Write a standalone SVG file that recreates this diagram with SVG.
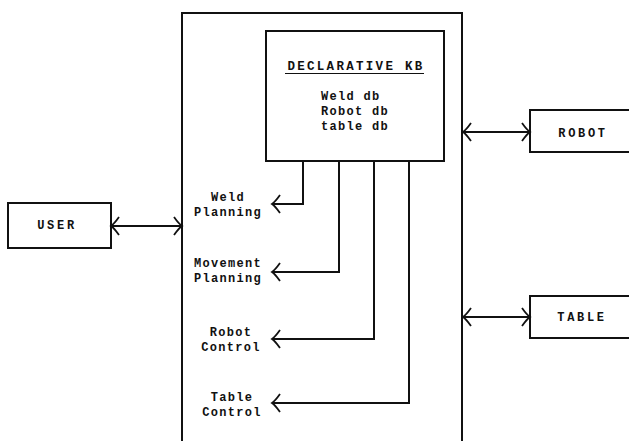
<svg xmlns="http://www.w3.org/2000/svg" width="629" height="441" viewBox="0 0 629 441">
<style>
.ln{fill:none;stroke:#111;stroke-width:2}
.bx{fill:#fff;stroke:#111;stroke-width:2}
.t{font-family:"Liberation Mono","DejaVu Sans Mono",monospace;font-weight:bold;font-size:12px;fill:#111;letter-spacing:1.3px}
.m{text-anchor:middle}
.big{letter-spacing:2.7px}
</style>
<defs>
<marker id="ch" viewBox="-12 -12 24 24" refX="0" refY="0" markerWidth="24" markerHeight="24" markerUnits="userSpaceOnUse" orient="auto-start-reverse">
<path d="M-8,-9 Q-3,-2 0,0 Q-3,2 -8,9" fill="none" stroke="#111" stroke-width="1.8"/>
</marker>
</defs>
<rect width="629" height="441" fill="#fff"/>
<g id="system">
<path class="ln" d="M182,441 V13 H462 V441"/>
<text class="t m" x="228" y="201">Weld</text>
<text class="t m" x="228" y="216">Planning</text>
<text class="t m" x="228" y="267">Movement</text>
<text class="t m" x="228" y="282">Planning</text>
<text class="t m" x="231" y="336">Robot</text>
<text class="t m" x="231" y="351">Control</text>
<text class="t m" x="232" y="401">Table</text>
<text class="t m" x="232" y="416">Control</text>
</g>
<g id="kb">
<rect class="bx" x="266" y="31" width="178" height="130"/>
<text class="t m" x="356" y="70" style="font-size:12.5px;letter-spacing:2.3px">DECLARATIVE KB</text>
<line x1="285" y1="73.5" x2="424" y2="73.5" stroke="#111" stroke-width="1.2"/>
<text class="t" x="321" y="100">Weld db</text>
<text class="t" x="321" y="115">Robot db</text>
<text class="t" x="321" y="130">table db</text>
</g>
<g id="user">
<rect class="bx" x="8" y="203" width="103" height="45"/>
<text class="t m big" x="57" y="229">USER</text>
</g>
<g id="robot">
<path class="bx" d="M630,110 H530 V152 H630"/>
<text class="t m big" x="583" y="137">ROBOT</text>
</g>
<g id="table">
<path class="bx" d="M630,296 H530 V338 H630"/>
<text class="t m big" x="582" y="321">TABLE</text>
</g>
<g id="connectors">
<path class="ln" d="M111,226 H182" marker-start="url(#ch)" marker-end="url(#ch)"/>
<path class="ln" d="M463,132 H530" marker-start="url(#ch)" marker-end="url(#ch)"/>
<path class="ln" d="M463,317 H530" marker-start="url(#ch)" marker-end="url(#ch)"/>
<path class="ln" d="M303,161 V204 H272" marker-end="url(#ch)"/>
<path class="ln" d="M339,161 V272 H272" marker-end="url(#ch)"/>
<path class="ln" d="M374,161 V339 H272" marker-end="url(#ch)"/>
<path class="ln" d="M409,161 V403 H272" marker-end="url(#ch)"/>
</g>
</svg>
